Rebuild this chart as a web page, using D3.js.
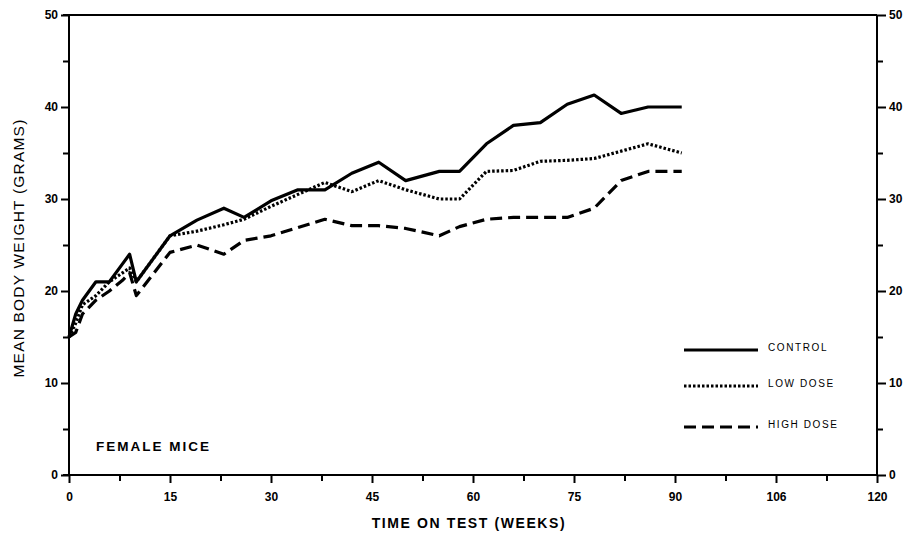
<!DOCTYPE html>
<html lang="en">
<head>
    <meta charset="UTF-8">
    <title>Female Mice Body Weight</title>
    <script src="https://d3js.org/d3.v7.min.js"></script>
    <style>
        body { margin: 0; background: #fff; }
        text { font-family: "Liberation Sans", Arial, sans-serif; fill: #000; }
        .tick text { font-size: 12px; font-weight: bold; }
        .axis path, .axis line { stroke: #000; stroke-width: 2px; }
        .series { fill: none; stroke: #000; stroke-width: 3.2px; stroke-linejoin: round; }
    </style>
</head>
<body>
    <script>
        // values
        var weeks = [0, 1, 2, 4, 6, 8, 9, 10, 15, 19, 23, 26, 30, 34, 38, 42, 46, 50, 55, 58, 62, 66, 70, 74, 78, 82, 86, 91];
        var control = [15, 17.5, 19, 21, 21, 23, 24, 21, 26, 27.7, 29, 28, 29.8, 31, 31, 32.8, 34, 32, 33, 33, 36, 38, 38.3, 40.3, 41.3, 39.3, 40, 40];
        var lowDose = [15, 16.5, 18.5, 19.5, 21, 22, 22.5, 21, 26, 26.5, 27.2, 27.8, 29.2, 30.5, 31.8, 30.8, 32, 31, 30, 30, 33, 33.1, 34.1, 34.2, 34.4, 35.2, 36, 35];
        var highDose = [15, 15.5, 17.5, 19, 20, 21.2, 22, 19.5, 24.2, 25, 24, 25.5, 26, 26.9, 27.8, 27.1, 27.1, 26.8, 26, 27, 27.8, 28, 28, 28, 29, 32, 33, 33];
        var xTicks = [0, 15, 30, 45, 60, 75, 90, 105, 120];
        var xTickLabels = ["0", "15", "30", "45", "60", "75", "90", "106", "120"];
        var yTicks = [0, 10, 20, 30, 40, 50];

        var width = 918, height = 541;
        var x0 = 69, x1 = 877, y0 = 475, y1 = 15;

        var x = d3.scaleLinear().domain([0, 120]).range([x0, x1]);
        var y = d3.scaleLinear().domain([0, 50]).range([y0, y1]);

        var svg = d3.select("body").append("svg")
            .attr("width", width)
            .attr("height", height);

        // top frame line
        svg.append("line")
            .attr("x1", x0 - 6).attr("x2", x1)
            .attr("y1", y1).attr("y2", y1)
            .attr("stroke", "#000").attr("stroke-width", 2);

        // x axis
        var xAxis = svg.append("g").attr("class", "axis")
            .attr("transform", "translate(0," + y0 + ")")
            .call(d3.axisBottom(x).tickValues(xTicks).tickSize(8).tickPadding(9)
                .tickFormat((d, i) => xTickLabels[i]));
        xAxis.select(".domain").attr("d", "M" + (x0 - 6) + ",0H" + x1);
        svg.append("g").attr("class", "axis")
            .attr("transform", "translate(0," + y0 + ")")
            .call(d3.axisBottom(x).tickValues(d3.range(7.5, 120, 15)).tickSize(6).tickFormat(""))
            .select(".domain").remove();

        // left axis
        var yl = svg.append("g").attr("class", "axis")
            .attr("transform", "translate(" + x0 + ",0)")
            .call(d3.axisLeft(y).tickValues(yTicks).tickSize(8).tickPadding(3));
        yl.select(".domain").attr("d", "M0," + y1 + "V" + y0);
        svg.append("g").attr("class", "axis")
            .attr("transform", "translate(" + x0 + ",0)")
            .call(d3.axisLeft(y).tickValues(d3.range(5, 50, 10)).tickSize(6).tickFormat(""))
            .select(".domain").remove();

        // right axis
        var yr = svg.append("g").attr("class", "axis")
            .attr("transform", "translate(" + x1 + ",0)")
            .call(d3.axisRight(y).tickValues(yTicks).tickSize(9).tickPadding(3));
        yr.select(".domain").attr("d", "M0," + y1 + "V" + y0);
        svg.append("g").attr("class", "axis")
            .attr("transform", "translate(" + x1 + ",0)")
            .call(d3.axisRight(y).tickValues(d3.range(5, 50, 10)).tickSize(6).tickFormat(""))
            .select(".domain").remove();

        // axis titles
        svg.append("text")
            .attr("x", (x0 + x1) / 2 - 4).attr("y", 528)
            .attr("text-anchor", "middle")
            .style("font-size", "14px").style("font-weight", "bold")
            .style("letter-spacing", "1.6px")
            .text("TIME ON TEST (WEEKS)");
        svg.append("text")
            .attr("transform", "translate(24," + ((y0 + y1) / 2 + 3) + ") rotate(-90)")
            .attr("text-anchor", "middle")
            .style("font-size", "15.5px")
            .style("letter-spacing", "1.2px")
            .text("MEAN BODY WEIGHT (GRAMS)");

        svg.append("text")
            .attr("x", 96).attr("y", 451)
            .style("font-size", "13.5px").style("font-weight", "bold")
            .style("letter-spacing", "2px")
            .text("FEMALE MICE");

        var series = [
            { name: "CONTROL", values: control, dash: null },
            { name: "LOW DOSE", values: lowDose, dash: "2.5,2" },
            { name: "HIGH DOSE", values: highDose, dash: "12,6" }
        ];

        var line = d3.line()
            .x((d, i) => x(weeks[i]))
            .y(d => y(d));

        svg.selectAll(".series")
            .data(series)
            .enter().append("path")
            .attr("class", "series")
            .attr("stroke-dasharray", d => d.dash)
            .attr("d", d => line(d.values));

        // legend
        var legendY = [350, 386, 427];
        var legend = svg.selectAll(".legend")
            .data(series)
            .enter().append("g")
            .attr("class", "legend")
            .attr("transform", (d, i) => "translate(684," + legendY[i] + ")");
        legend.append("line")
            .attr("x1", 0).attr("x2", 74)
            .attr("stroke", "#000").attr("stroke-width", 3)
            .attr("stroke-dasharray", d => d.dash);
        legend.append("text")
            .attr("x", 84).attr("dy", "0.05em")
            .style("font-size", "10px")
            .style("letter-spacing", "1.6px")
            .text(d => d.name);
    </script>
</body>
</html>
